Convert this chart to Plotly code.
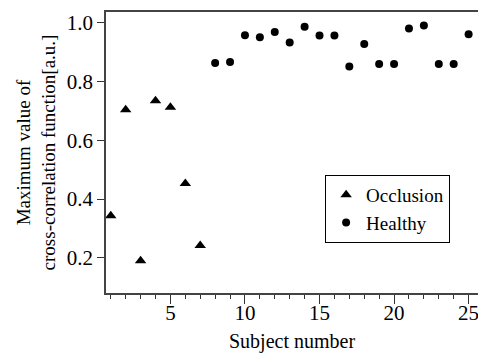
import plotly.graph_objects as go

occ_x = [1, 2, 3, 4, 5, 6, 7]
occ_y = [0.343, 0.704, 0.19, 0.735, 0.713, 0.453, 0.242]
hea_x = list(range(8, 26))
hea_y = [0.863, 0.867, 0.958, 0.951, 0.969, 0.933, 0.987, 0.957, 0.957,
         0.851, 0.928, 0.860, 0.860, 0.981, 0.991, 0.860, 0.860, 0.961]
x_ticks = [5, 10, 15, 20, 25]
y_ticks = [0.2, 0.4, 0.6, 0.8, 1.0]

FONT = '"Times New Roman", "Liberation Serif", serif'
fig = go.Figure()
fig.add_trace(go.Scatter(x=occ_x, y=occ_y, mode="markers", name="Occlusion",
                         marker=dict(symbol="triangle-up", size=10, color="black")))
fig.add_trace(go.Scatter(x=hea_x, y=hea_y, mode="markers", name="Healthy",
                         marker=dict(symbol="circle", size=8, color="black")))

fig.update_layout(
    width=478, height=353,
    margin=dict(l=106, r=0, t=12, b=60),
    paper_bgcolor="white", plot_bgcolor="white",
    font=dict(family=FONT, size=21, color="black"),
    showlegend=True,
    legend=dict(x=0.589, y=0.42, xanchor="left", yanchor="top",
                bordercolor="black", borderwidth=1, bgcolor="white",
                font=dict(family=FONT, size=19, color="black"), tracegroupgap=0,
                itemwidth=30),
)
fig.update_xaxes(
    range=[0.68, 25.63], tickvals=x_ticks, ticktext=[str(v) for v in x_ticks],
    tickfont=dict(family=FONT, size=21, color="black"),
    ticks="outside", ticklen=9, tickcolor="#333", tickwidth=1, ticklabelstandoff=-9,
    minor=dict(dtick=1, ticks="outside", ticklen=4, tickcolor="#333", tickwidth=1),
    showline=True, linecolor="#444", linewidth=1.5, mirror=True,
    showgrid=False, zeroline=False, ticklabeloverflow="allow",
    title=dict(text="Subject number", standoff=12, font=dict(family=FONT, size=20)),
)
fig.update_yaxes(
    range=[0.08, 1.037], tickvals=y_ticks, ticktext=[f"{v:.1f}" for v in y_ticks],
    tickfont=dict(family=FONT, size=21, color="black"),
    ticks="outside", ticklen=7, tickcolor="#333", tickwidth=1,
    showline=True, linecolor="#444", linewidth=1.5,
    showgrid=False, zeroline=False,
    title=dict(text="Maximum value of<br>cross-correlation function[a.u.]", standoff=6,
               font=dict(family=FONT, size=19)),
)
fig.write_html("out.html")
